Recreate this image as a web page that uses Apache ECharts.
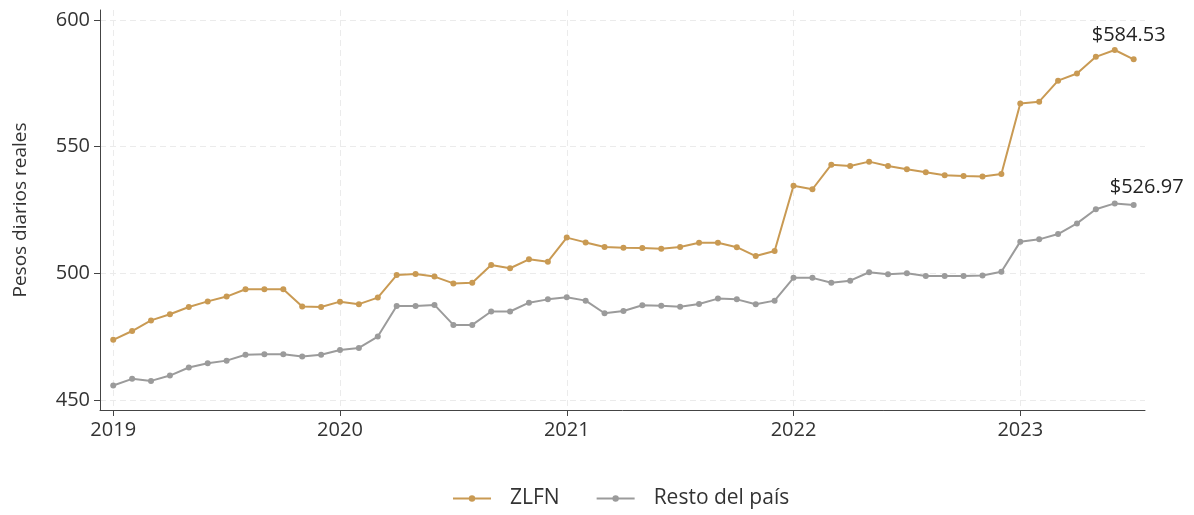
<!DOCTYPE html>
<html>
<head>
<meta charset="utf-8">
<script src="https://cdn.jsdelivr.net/npm/echarts@6/dist/echarts.min.js"></script>
<style>
html,body{margin:0;padding:0;background:#fff;}
#chart{width:1194px;height:515px;}
</style>
</head>
<body>
<div id="chart"></div>
<script>
// Monthly data, Jan 2019 (index 0) to Jul 2023 (index 54)
const startYear = 2019;
const yearTicks = [0, 12, 24, 36, 48];
const yTicks = [450, 500, 550, 600];
const zlfn = [
  473.7, 477.2, 481.4, 483.8, 486.7, 488.9, 490.8, 493.7, 493.7, 493.7, 486.9, 486.7,
  488.8, 487.8, 490.4, 499.3, 499.7, 498.7, 496.0, 496.3, 503.3, 502.0, 505.5, 504.6,
  514.1, 512.2, 510.4, 510.1, 510.0, 509.7, 510.4, 512.1, 512.1, 510.3, 506.8, 508.8,
  534.6, 533.2, 542.9, 542.4, 544.1, 542.4, 541.1, 539.9, 538.7, 538.4, 538.2, 539.2,
  567.1, 567.8, 576.1, 578.9, 585.5, 588.2, 584.53
];
const resto = [
  455.7, 458.3, 457.5, 459.6, 462.8, 464.5, 465.5, 467.8, 468.0, 468.0, 467.1, 467.8,
  469.7, 470.5, 475.0, 487.1, 487.1, 487.5, 479.6, 479.6, 484.9, 484.9, 488.4, 489.7,
  490.5, 489.2, 484.2, 485.1, 487.4, 487.2, 486.8, 487.9, 490.0, 489.7, 487.8, 489.2,
  498.2, 498.2, 496.3, 497.1, 500.4, 499.6, 500.0, 498.9, 498.9, 498.9, 499.1, 500.6,
  512.5, 513.4, 515.5, 519.7, 525.3, 527.6, 526.97
];
const seriesNames = ['ZLFN', 'Resto del país'];
const colors = ['#c99a53', '#9b9b9b'];

function toPoints(arr, labelOffset) {
  return arr.map(function (v, i) {
    const p = { value: [i, v] };
    if (i === arr.length - 1) {
      p.label = {
        show: true,
        position: 'top',
        offset: labelOffset,
        formatter: '$' + v.toFixed(2),
        color: '#222',
        fontSize: 20,
        fontFamily: 'Open Sans'
      };
    }
    return p;
  });
}

const chart = echarts.init(document.getElementById('chart'), null, { renderer: 'canvas' });
const gridLine = { show: true, lineStyle: { color: '#ebebeb', type: [6, 4], width: 1 } };
chart.setOption({
  animation: false,
  textStyle: { fontFamily: 'Open Sans' },
  grid: { left: 100, right: 49, top: 10, bottom: 105, containLabel: false },
  legend: {
    bottom: 1,
    left: 447,
    itemWidth: 38,
    itemHeight: 8,
    itemGap: 36,
    textStyle: { fontSize: 21, color: '#333', fontFamily: 'Open Sans', padding: [0, 0, 0, 14] },
    data: seriesNames
  },
  xAxis: {
    type: 'value',
    min: -0.7,
    max: 54.6,
    axisLine: { show: true, onZero: false, lineStyle: { color: '#444', width: 1 } },
    axisTick: { show: true, length: 6, lineStyle: { color: '#444' }, customValues: yearTicks },
    axisLabel: {
      customValues: yearTicks,
      formatter: function (v) { return String(startYear + Math.round(v / 12)); },
      fontSize: 20, color: '#333', margin: 10
    },
    splitLine: gridLine
  },
  yAxis: {
    type: 'value',
    min: 446,
    max: 604,
    name: 'Pesos diarios reales',
    nameLocation: 'middle',
    nameGap: 70,
    nameTextStyle: { fontSize: 19, color: '#333' },
    axisLine: { show: true, onZero: false, lineStyle: { color: '#444', width: 1 } },
    axisTick: { show: true, length: 6, lineStyle: { color: '#444' }, customValues: yTicks },
    axisLabel: { customValues: yTicks, fontSize: 20, color: '#333', margin: 10 },
    splitLine: gridLine
  },
  series: [
    {
      name: seriesNames[0],
      type: 'line',
      data: toPoints(zlfn, [-5, -6]),
      color: colors[0],
      symbol: 'circle',
      symbolSize: 6,
      lineStyle: { width: 2, color: colors[0] },
      itemStyle: { color: colors[0] }
    },
    {
      name: seriesNames[1],
      type: 'line',
      data: toPoints(resto, [13, 0]),
      color: colors[1],
      symbol: 'circle',
      symbolSize: 6,
      lineStyle: { width: 2, color: colors[1] },
      itemStyle: { color: colors[1] }
    }
  ]
});
</script>
</body>
</html>
